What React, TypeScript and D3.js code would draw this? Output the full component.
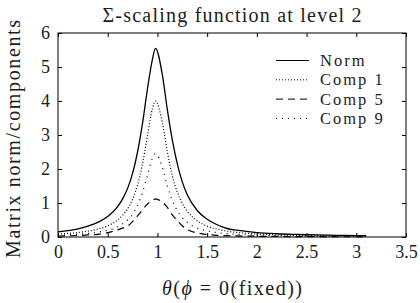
import { useEffect, useRef } from 'react';
import * as d3 from 'd3';

// theta samples (x) and the four curves
const thetas = [0, 0.1, 0.2, 0.3, 0.4, 0.5, 0.6, 0.65, 0.7, 0.75, 0.8, 0.85, 0.9, 0.95, 0.98, 1.05, 1.1, 1.15, 1.2, 1.25, 1.3, 1.4, 1.5, 1.6, 1.7, 1.8, 2.0, 2.2, 2.4, 2.6, 2.8, 3.0, 3.1];
const normValues = [0.15, 0.19, 0.24, 0.32, 0.43, 0.6, 0.89, 1.12, 1.43, 1.87, 2.5, 3.34, 4.36, 5.23, 5.55, 4.76, 3.74, 2.85, 2.15, 1.62, 1.24, 0.78, 0.52, 0.36, 0.25, 0.2, 0.13, 0.095, 0.075, 0.06, 0.05, 0.042, 0.038];
const comp1Values = [0.085, 0.105, 0.132, 0.172, 0.231, 0.33, 0.5, 0.64, 0.83, 1.11, 1.53, 2.15, 2.98, 3.78, 4.0, 3.35, 2.5, 1.8, 1.32, 0.99, 0.76, 0.48, 0.32, 0.23, 0.17, 0.135, 0.09, 0.065, 0.05, 0.04, 0.032, 0.027, 0.025];
const comp5Values = [0.03, 0.035, 0.045, 0.06, 0.08, 0.13, 0.21, 0.26, 0.32, 0.45, 0.62, 0.8, 0.97, 1.08, 1.12, 1.02, 0.87, 0.65, 0.48, 0.33, 0.22, 0.12, 0.075, 0.05, 0.04, 0.032, 0.022, 0.016, 0.012, 0.01, 0.008, 0.007, 0.006];
const comp9Values = [0.052, 0.064, 0.081, 0.105, 0.141, 0.2, 0.3, 0.39, 0.5, 0.67, 0.93, 1.31, 1.82, 2.32, 2.45, 2.04, 1.5, 1.07, 0.77, 0.565, 0.43, 0.266, 0.18, 0.128, 0.098, 0.078, 0.055, 0.04, 0.03, 0.025, 0.02, 0.017, 0.015];

const seriesNames = ['Norm', 'Comp 1', 'Comp 5', 'Comp 9'];
const seriesValues = [normValues, comp1Values, comp5Values, comp9Values];
const seriesDash = ['none', '1,2', '7,5', '1,5'];
const xTicks = [0, 0.5, 1, 1.5, 2, 2.5, 3, 3.5];
const yTicks = [0, 1, 2, 3, 4, 5, 6];

const W = 420;
const H = 303;
const FONT = '"Liberation Serif", "Times New Roman", serif';
const INK = '#1c1c1c';

export default function App() {
  const svgRef = useRef<SVGSVGElement>(null);

  useEffect(() => {
    if (!svgRef.current) return;
    const svg = d3.select(svgRef.current);
    svg.selectAll('*').remove();

    const margin = { top: 33, right: 14, bottom: 66, left: 58 };
    const plotW = W - margin.left - margin.right;
    const plotH = H - margin.top - margin.bottom;

    const x = d3.scaleLinear().domain([0, 3.5]).range([0, plotW]);
    const y = d3.scaleLinear().domain([0, 6]).range([plotH, 0]);

    const g = svg.append('g').attr('transform', `translate(${margin.left},${margin.top})`);

    // curves
    const line = d3.line<number>()
      .x((_, i) => x(thetas[i]))
      .y((d) => y(d))
      .curve(d3.curveMonotoneX);

    seriesValues.forEach((vals, i) => {
      g.append('path')
        .datum(vals)
        .attr('d', line)
        .attr('fill', 'none')
        .attr('stroke', '#000')
        .attr('stroke-width', i === 0 ? 1.3 : 1.2)
        .attr('stroke-dasharray', seriesDash[i]);
    });

    // frame + inward ticks on all sides
    g.append('rect')
      .attr('width', plotW)
      .attr('height', plotH)
      .attr('fill', 'none')
      .attr('stroke', '#000')
      .attr('stroke-width', 1);

    const tickLen = 4;
    const bottom = g.append('g').attr('transform', `translate(0,${plotH})`)
      .call(d3.axisBottom(x).tickValues(xTicks).tickSize(-tickLen).tickPadding(8).tickFormat((d) => `${d}`));
    g.append('g').call(d3.axisTop(x).tickValues(xTicks).tickSize(-tickLen).tickFormat(() => ''));
    const left = g.append('g')
      .call(d3.axisLeft(y).tickValues(yTicks).tickSize(-tickLen).tickPadding(8).tickFormat((d) => `${d}`));
    g.append('g').attr('transform', `translate(${plotW},0)`)
      .call(d3.axisRight(y).tickValues(yTicks).tickSize(-tickLen).tickFormat(() => ''));

    g.selectAll('.domain').remove();
    g.selectAll('.tick line').attr('stroke', '#000');
    [bottom, left].forEach((ax) => ax.selectAll('.tick text')
      .attr('fill', INK)
      .attr('font-family', FONT)
      .attr('font-size', '18px'));

    // legend
    const legend = g.append('g').attr('transform', `translate(${276 - margin.left},${60.5 - margin.top})`);
    seriesNames.forEach((name, i) => {
      const row = legend.append('g').attr('transform', `translate(0,${i * 19.3})`);
      row.append('line')
        .attr('x1', 0).attr('x2', 33)
        .attr('stroke', '#000')
        .attr('stroke-width', i === 0 ? 1.1 : 1)
        .attr('stroke-dasharray', seriesDash[i]);
      row.append('text')
        .attr('x', 44)
        .attr('dy', '0.34em')
        .attr('fill', INK)
        .attr('font-family', FONT)
        .attr('font-size', '16.5px')
        .attr('letter-spacing', '2px')
        .text(name);
    });

    // title
    svg.append('text')
      .attr('x', margin.left + plotW / 2)
      .attr('y', 22)
      .attr('text-anchor', 'middle')
      .attr('fill', INK)
      .attr('font-family', FONT)
      .attr('font-size', '20px')
      .attr('textLength', 259)
      .attr('lengthAdjust', 'spacing')
      .text('Σ-scaling function at level 2');

    // x label
    svg.append('text')
      .attr('x', margin.left + plotW / 2)
      .attr('y', 295)
      .attr('text-anchor', 'middle')
      .attr('fill', INK)
      .attr('font-family', FONT)
      .attr('font-size', '20px')
      .attr('textLength', 140)
      .attr('lengthAdjust', 'spacing')
      .html('<tspan font-style="italic">θ</tspan>(<tspan font-style="italic">ϕ</tspan> = 0(fixed))');

    // y label
    svg.append('text')
      .attr('transform', 'rotate(-90)')
      .attr('x', -139)
      .attr('y', 20)
      .attr('text-anchor', 'middle')
      .attr('fill', INK)
      .attr('font-family', FONT)
      .attr('font-size', '20px')
      .attr('textLength', 238)
      .attr('lengthAdjust', 'spacing')
      .text('Matrix norm/components');
  }, []);

  return (
    <div style={{ position: 'fixed', left: 0, top: 0, background: '#fff' }}>
      <svg ref={svgRef} width={W} height={H} style={{ display: 'block' }} />
    </div>
  );
}
